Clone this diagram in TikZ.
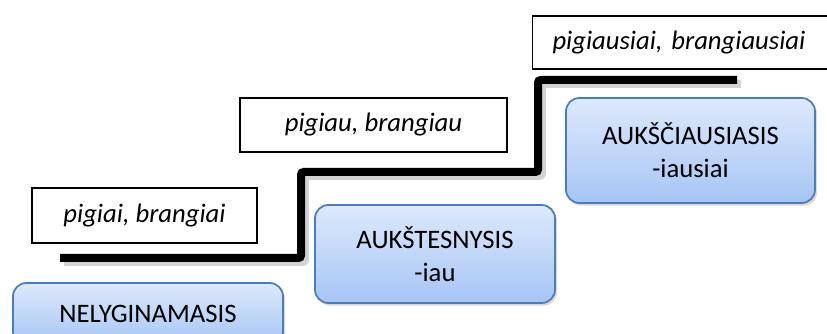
\documentclass[tikz,border=0pt]{standalone}
\usepackage{fontspec}
\setmainfont{Carlito}
\frenchspacing
\usetikzlibrary{shadows, positioning}
\definecolor{boxtop}{HTML}{DDE9FC}
\definecolor{boxbottom}{HTML}{A6C5F4}
\definecolor{boxline}{HTML}{4A7EBB}
\newcommand{\pxl}{0.75pt}

\begin{document}
\begin{tikzpicture}[x=0.75pt, y=-0.75pt,
    wordbox/.style={draw, line width=0.8pt, fill=white, inner sep=0pt, font=\fontsize{20}{24}\selectfont\itshape},
    degree/.style={draw=boxline, line width=1.3pt, rounded corners=10pt, top color=boxtop, bottom color=boxbottom,
      align=center, inner sep=0pt, font=\fontsize{20}{25}\selectfont,
      drop shadow={shadow xshift=1.5pt, shadow yshift=-2pt, opacity=0.3}}]
      \useasboundingbox (0, 0) rectangle (827, 334);
      \clip (0, 0) rectangle (827, 334);
      % stairs
      \draw[line width=6pt, gray, opacity=0.35, rounded corners=2pt] (64, 262) -- (305, 262) -- (305, 176) -- (542, 176) -- (542, 84) -- (741, 84);
      \draw[line width=6pt, rounded corners=2pt] (60, 258) -- (301, 258) -- (301, 172) -- (538, 172) -- (538, 80) -- (737, 80);
      % forms
      \node[wordbox, minimum width=225*\pxl, minimum height=55*\pxl] (pos) at (144.5, 215.5) {pigiai, brangiai};
      \node[wordbox, minimum width=267*\pxl, minimum height=54*\pxl] (comp) at (373.5, 125) {pigiau, brangiau};
      \node[wordbox, anchor=west, inner xsep=20*\pxl, text width=300*\pxl, align=left, minimum height=53*\pxl] (sup) at (532, 42.5) {pigiausiai, brangiausiai};
      % degrees
      \node[degree, minimum width=270*\pxl, minimum height=62*\pxl] (nel) at (148, 314) {NELYGINAMASIS};
      \node[degree, minimum width=240*\pxl, minimum height=98*\pxl] (auk) at (435, 254) {AUKŠTESNYSIS\\-iau};
      \node[degree, minimum width=249*\pxl, minimum height=105*\pxl] (aukc) at (690.5, 150.5) {AUKŠČIAUSIASIS\\-iausiai};
    \end{tikzpicture}
\end{document}
